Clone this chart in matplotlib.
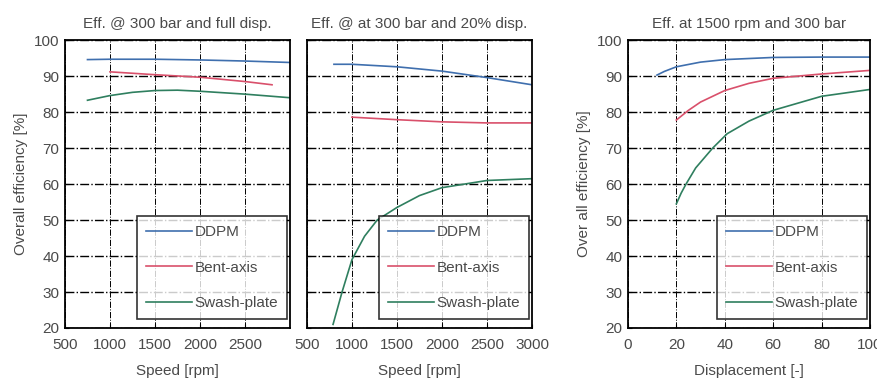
import numpy as np
import matplotlib
matplotlib.use("Agg")
import matplotlib.pyplot as plt

plt.rcParams['font.family'] = ['Liberation Sans', 'DejaVu Sans']

labels = ['DDPM', 'Bent-axis', 'Swash-plate']
colors = ['#3f6fae', '#d9506b', '#2f7f5f']

# panel 1: efficiency vs speed, full displacement
p1_ddpm_x = [750, 1000, 1500, 2000, 2500, 3000]
p1_ddpm_y = [94.6, 94.7, 94.7, 94.5, 94.2, 93.8]
p1_bent_x = [1000, 1250, 1500, 2000, 2500, 2800]
p1_bent_y = [91.2, 90.8, 90.4, 89.7, 88.5, 87.6]
p1_swash_x = [750, 1000, 1250, 1500, 1750, 2000, 2500, 3000]
p1_swash_y = [83.3, 84.6, 85.5, 86.0, 86.1, 85.8, 85.0, 84.0]

# panel 2: efficiency vs speed, 20% displacement
p2_ddpm_x = [800, 1000, 1500, 2000, 2500, 3000]
p2_ddpm_y = [93.3, 93.3, 92.6, 91.4, 89.6, 87.6]
p2_bent_x = [1000, 1500, 2000, 2500, 3000]
p2_bent_y = [78.6, 77.9, 77.3, 77.0, 77.0]
p2_swash_x = [790, 890, 1000, 1140, 1280, 1500, 1750, 2000, 2500, 3000]
p2_swash_y = [21, 30, 39, 45.5, 50, 53.5, 56.8, 59.0, 61.0, 61.5]

# panel 3: efficiency vs displacement
p3_ddpm_x = [12, 15, 20, 30, 40, 60, 80, 100]
p3_ddpm_y = [90.3, 91.3, 92.6, 93.9, 94.6, 95.2, 95.3, 95.3]
p3_bent_x = [20, 25, 30, 40, 50, 60, 80, 100]
p3_bent_y = [77.8, 80.5, 82.8, 86.0, 88.0, 89.4, 90.6, 91.6]
p3_swash_x = [20, 22, 24, 28, 35, 41, 50, 60, 80, 100]
p3_swash_y = [54.5, 57.5, 60, 64.5, 70, 74, 77.5, 80.5, 84.4, 86.3]

yticks = [20, 30, 40, 50, 60, 70, 80, 90, 100]

fig = plt.figure(figsize=(8.77, 3.9), dpi=100)
ax1 = fig.add_axes([0.0741, 0.159, 0.2566, 0.738])
ax2 = fig.add_axes([0.350, 0.159, 0.2566, 0.738])
ax3 = fig.add_axes([0.716, 0.159, 0.276, 0.738])

tc = '#4a4a4a'
fs = 11
data = [
    (ax1, [(p1_ddpm_x, p1_ddpm_y), (p1_bent_x, p1_bent_y), (p1_swash_x, p1_swash_y)]),
    (ax2, [(p2_ddpm_x, p2_ddpm_y), (p2_bent_x, p2_bent_y), (p2_swash_x, p2_swash_y)]),
    (ax3, [(p3_ddpm_x, p3_ddpm_y), (p3_bent_x, p3_bent_y), (p3_swash_x, p3_swash_y)]),
]

for ax, series in data:
    for (x, y), lab, c in zip(series, labels, colors):
        ax.plot(x, y, color=c, lw=1.2, label=lab)
    ax.set_ylim(20, 100)
    ax.set_yticks(yticks)
    ax.grid(True, axis='y', color='black', linestyle='-.', lw=1.0)
    ax.grid(True, axis='x', color='black', linestyle='-.', lw=0.7)
    ax.tick_params(direction='in', length=3, labelsize=fs, colors='black',
                   labelcolor=tc)
    ax.tick_params(axis='x', pad=7)
    ax.tick_params(axis='y', pad=4)
    for s in ax.spines.values():
        s.set_linewidth(1.3)
    leg = ax.legend(loc='lower right', bbox_to_anchor=(0.988, 0.03), fontsize=fs,
                    frameon=True, fancybox=False, edgecolor='black',
                    labelspacing=1.4, handlelength=3.0, handletextpad=0.15,
                    borderpad=0.6, borderaxespad=0, labelcolor=tc)
    leg.get_frame().set_linewidth(1.2)

ax1.set_xlim(500, 3000)
ax1.set_xticks([500, 1000, 1500, 2000, 2500])
ax2.set_xlim(500, 3000)
ax2.set_xticks([500, 1000, 1500, 2000, 2500, 3000])
ax2.tick_params(labelleft=False)
ax3.set_xlim(0, 100)
ax3.set_xticks([0, 20, 40, 60, 80, 100])

ax1.set_title('Eff. @ 300 bar and full disp.', fontsize=fs, color=tc, pad=9)
ax2.set_title('Eff. @ at 300 bar and 20% disp.', fontsize=fs, color=tc, pad=9)
ax3.set_title('Eff. at 1500 rpm and 300 bar', fontsize=fs, color=tc, pad=9)

ax1.set_xlabel('Speed [rpm]', fontsize=fs, color=tc, labelpad=9)
ax2.set_xlabel('Speed [rpm]', fontsize=fs, color=tc, labelpad=9)
ax3.set_xlabel('Displacement [-]', fontsize=fs, color=tc, labelpad=9)
ax1.set_ylabel('Overall efficiency [%]', fontsize=fs, color=tc, labelpad=4)
ax3.set_ylabel('Over all efficiency [%]', fontsize=fs, color=tc, labelpad=4)

fig.savefig('out.png', dpi=100)
